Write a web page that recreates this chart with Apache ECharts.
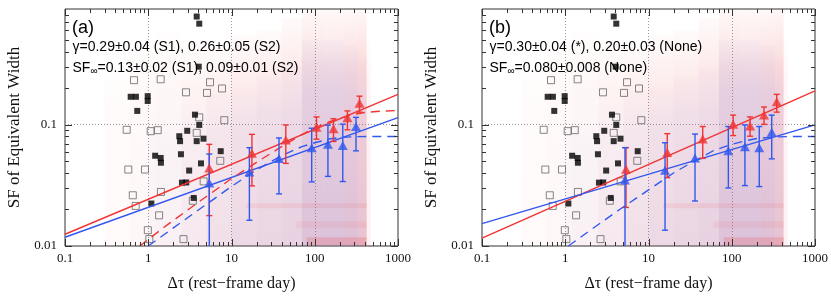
<!DOCTYPE html>
<html><head><meta charset="utf-8">
<script src="https://cdn.jsdelivr.net/npm/echarts@6/dist/echarts.min.js"></script>
<style>html,body{margin:0;padding:0;background:#fff}#c{width:831px;height:297px}</style>
</head><body><div id="c"></div>
<script>
// ---------- tick labels ----------
const xTickVals = [0.1, 1, 10, 100, 1000];
const xTickLabels = ['0.1', '1', '10', '100', '1000'];
const yTickVals = [0.01, 0.1];
const yTickLabels = ['0.01', '0.1'];
const minorMultipliers = [2, 3, 4, 5, 6, 7, 8, 9];

// ---------- squares (same in both panels) ----------
const filledSquares = [[3.82,0.780],[4.10,0.681],[4.04,0.301],[0.615,0.170],[0.711,0.170],[0.985,0.172],[0.985,0.157],[0.738,0.130],[3.64,0.121],[4.10,0.0996],[2.94,0.0891],[2.36,0.0804],[2.41,0.0732],[3.82,0.0732],[4.61,0.0767],[7.42,0.0605],[1.21,0.0555],[1.41,0.0532],[1.42,0.0486],[2.47,0.0571],[4.30,0.0480],[3.10,0.0419],[2.54,0.0333],[2.86,0.0334],[3.52,0.0249],[1.09,0.0224]];
const openSquares = [[0.674,0.233],[1.41,0.237],[5.52,0.224],[2.84,0.185],[5.08,0.183],[7.69,0.199],[4.10,0.115],[8.20,0.109],[0.551,0.0908],[1.07,0.0885],[1.30,0.0902],[3.82,0.0857],[0.576,0.0427],[0.914,0.0427],[7.33,0.0504],[4.63,0.0341],[0.652,0.0262],[0.707,0.0214],[1.42,0.0279],[3.43,0.0236],[1.35,0.0179],[0.988,0.0135],[1.03,0.0114],[2.65,0.0114]];

// ---------- panel (a) binned SF ----------
const aRedX  = [5.41, 17.6, 44.9, 105, 168, 247, 345];
const aRedY  = [0.0440, 0.0582, 0.0750, 0.0951, 0.0927, 0.114, 0.150];
const aRedLo = [0.0178, 0.0313, 0.0480, 0.0760, 0.0728, 0.0909, 0.127];
const aRedHi = [0.0689, 0.0833, 0.0996, 0.116, 0.112, 0.130, 0.172];
const aBlueX  = [5.41, 16.4, 37.2, 91.9, 144, 217, 313];
const aBlueY  = [0.0331, 0.0408, 0.0526, 0.0647, 0.0689, 0.0675, 0.0965];
const aBlueLo = [0.005, 0.0163, 0.0269, 0.0338, 0.0375, 0.0340, 0.0609];
const aBlueHi = [0.0573, 0.0647, 0.0778, 0.0936, 0.0993, 0.101, 0.115];

// ---------- panel (b) binned SF ----------
const bRedX  = [5.37, 16.8, 44.8, 104, 166, 244, 347];
const bRedY  = [0.0429, 0.059, 0.0764, 0.1007, 0.0978, 0.120, 0.155];
const bRedLo = [0.0208, 0.0366, 0.0528, 0.0814, 0.0804, 0.1007, 0.127];
const bRedHi = [0.0647, 0.0844, 0.0966, 0.120, 0.116, 0.140, 0.178];
const bBlueX  = [5.22, 15.8, 36.2, 91, 144, 214, 302];
const bBlueY  = [0.035, 0.0421, 0.0532, 0.0609, 0.0659, 0.0647, 0.0865];
const bBlueLo = [0.005, 0.0135, 0.0235, 0.0301, 0.0315, 0.0309, 0.0523];
const bBlueHi = [0.0647, 0.0710, 0.0838, 0.0966, 0.0996, 0.0966, 0.120];

// ---------- fitted curves ----------
const aRedFit  = [[0.1, 0.0125], [1000, 0.178]];
const aBlueFit = [[0.1, 0.0118], [1000, 0.1146]];
const bRedFit  = [[0.1, 0.0116], [1000, 0.190]];
const bBlueFit = [[0.1, 0.0153], [1000, 0.0996]];
const aRedDash  = [[0.79,0.01],[1.66,0.0148],[4.2,0.0235],[10,0.036],[20,0.049],[40,0.066],[70,0.083],[100,0.094],[150,0.106],[200,0.113],[300,0.122],[400,0.126],[600,0.129],[1000,0.131]];
const aBlueDash = [[1.0,0.01],[2,0.0141],[4,0.0198],[7,0.026],[10,0.031],[20,0.0425],[40,0.0555],[70,0.066],[100,0.071],[150,0.0763],[200,0.0784],[300,0.0797],[500,0.08],[1000,0.08]];
const bBlueDash = [[1.09,0.01],[2,0.0135],[4.5,0.020],[10,0.029],[20,0.040],[30,0.047],[60,0.061],[100,0.069],[150,0.074],[200,0.077],[300,0.079],[500,0.08],[1000,0.08]];

// ---------- background pair cloud: columns (x0, x1, top of cloud, density) ----------
const redCloudCols = [
  [0.3, 0.6, 0.4, 0.025], [0.6, 1.2, 0.5, 0.04], [1.2, 2.5, 0.6, 0.05], [2.5, 5, 0.5, 0.08],
  [5, 10, 0.45, 0.11], [10, 20, 0.55, 0.13], [20, 40, 0.6, 0.14], [40, 70, 0.75, 0.15],
  [70, 130, 0.9, 0.20], [130, 220, 0.9, 0.19], [220, 330, 0.9, 0.22], [330, 420, 0.9, 0.24],
  [420, 470, 0.5, 0.07]
];
const blueCloudCols = [
  [1, 2.5, 0.12, 0.025], [2.5, 5, 0.15, 0.04], [5, 10, 0.18, 0.06], [10, 20, 0.2, 0.08],
  [20, 40, 0.25, 0.09], [40, 70, 0.3, 0.10], [70, 130, 0.5, 0.15], [130, 220, 0.5, 0.16],
  [220, 330, 0.45, 0.14], [330, 420, 0.35, 0.09]
];
// horizontal streaks (x0, x1, y0, y1, density)
const redStreaks = [
  [80, 420, 0.0102, 0.0118, 0.18], [15, 420, 0.0205, 0.0225, 0.09], [60, 420, 0.014, 0.016, 0.07]
];

// ---------- texts ----------
const panelTags = ['(a)', '(b)'];
const gammaTexts = ['γ=0.29±0.04 (S1), 0.26±0.05 (S2)', 'γ=0.30±0.04 (*), 0.20±0.03 (None)'];
const sfTexts = ['=0.13±0.02 (S1), 0.09±0.01 (S2)', '=0.080±0.008 (None)'];

const RED = '#f03434', BLUE = '#3158ee';
const SERIF = 'Liberation Serif', SANS = 'Liberation Sans';
const gridLeft = [65, 482], gridTop = 9, gridW = 333, gridH = 244;

function pickLabel(vals, labels) {
  return function (v) {
    for (let i = 0; i < vals.length; i++) {
      if (Math.abs(Math.log10(v) - Math.log10(vals[i])) < 1e-6) return labels[i];
    }
    return '';
  };
}

const tickData = [];
xTickVals.forEach(v => tickData.push([v, 0.1, 0]));
xTickVals.slice(0, -1).forEach(d => minorMultipliers.forEach(m => tickData.push([d * m, 0.1, 1])));
yTickVals.forEach(v => tickData.push([1, v, 2]));
yTickVals.forEach(d => minorMultipliers.forEach(m => { if (d * m < 0.9 - 1e-9) tickData.push([1, d * m, 3]); }));

function tickRender(params, api) {
  const cs = params.coordSys;
  const k = api.value(2);
  const pt = api.coord([api.value(0), api.value(1)]);
  const len = (k === 0 || k === 2) ? 7 : 4;
  const st = { stroke: '#333', lineWidth: 1 };
  if (k < 2) {
    const x = Math.round(pt[0]) + 0.5;
    const b = cs.y + cs.height;
    return { type: 'group', children: [
      { type: 'line', shape: { x1: x, y1: b, x2: x, y2: b - len }, style: st },
      { type: 'line', shape: { x1: x, y1: cs.y, x2: x, y2: cs.y + len }, style: st }
    ] };
  } else {
    const y = Math.round(pt[1]) + 0.5;
    const r = cs.x + cs.width;
    return { type: 'group', children: [
      { type: 'line', shape: { x1: cs.x, y1: y, x2: cs.x + len, y2: y }, style: st },
      { type: 'line', shape: { x1: r, y1: y, x2: r - len, y2: y }, style: st }
    ] };
  }
}

function colRender(rgb) {
  return function (params, api) {
    const cs = params.coordSys;
    const p0 = api.coord([api.value(0), api.value(2)]);
    const p1 = api.coord([api.value(1), 0.01]);
    const a = api.value(3);
    const x0 = Math.max(p0[0], cs.x), x1 = Math.min(p1[0], cs.x + cs.width);
    const y0 = Math.max(p0[1], cs.y), y1 = Math.min(p1[1], cs.y + cs.height);
    return { type: 'rect', shape: { x: x0, y: y0, width: x1 - x0, height: y1 - y0 },
      style: { fill: { type: 'linear', x: 0, y: 0, x2: 0, y2: 1, colorStops: [
        { offset: 0, color: 'rgba(' + rgb + ',' + (a * 0.15) + ')' },
        { offset: 0.25, color: 'rgba(' + rgb + ',' + (a * 0.75) + ')' },
        { offset: 1, color: 'rgba(' + rgb + ',' + a + ')' } ] } } };
  };
}

function streakRender(rgb) {
  return function (params, api) {
    const cs = params.coordSys;
    const p0 = api.coord([api.value(0), api.value(3)]);
    const p1 = api.coord([api.value(1), api.value(2)]);
    const x0 = Math.max(p0[0], cs.x), x1 = Math.min(p1[0], cs.x + cs.width);
    return { type: 'rect', shape: { x: x0, y: p0[1], width: x1 - x0, height: p1[1] - p0[1] },
      style: { fill: 'rgba(' + rgb + ',' + api.value(4) + ')' } };
  };
}

function errRender(color) {
  return function (params, api) {
    const cs = params.coordSys;
    const top = api.coord([api.value(0), api.value(2)]);
    const bot = api.coord([api.value(0), api.value(1)]);
    const b = cs.y + cs.height;
    const x = top[0];
    const yb = Math.min(bot[1], b);
    const st = { stroke: color, lineWidth: 1.4 };
    const ch = [
      { type: 'line', shape: { x1: x, y1: top[1], x2: x, y2: yb }, style: st },
      { type: 'line', shape: { x1: x - 3, y1: top[1], x2: x + 3, y2: top[1] }, style: st }
    ];
    if (bot[1] <= b) ch.push({ type: 'line', shape: { x1: x - 3, y1: bot[1], x2: x + 3, y2: bot[1] }, style: st });
    return { type: 'group', children: ch };
  };
}

const zip2 = (a, b) => a.map((v, i) => [v, b[i]]);
const zip3 = (a, b, c) => a.map((v, i) => [v, b[i], c[i]]);

const grids = [], xAxes = [], yAxes = [], series = [], graphics = [];
const panels = [
  { redX: aRedX, redY: aRedY, redLo: aRedLo, redHi: aRedHi, blueX: aBlueX, blueY: aBlueY, blueLo: aBlueLo, blueHi: aBlueHi,
    redFit: aRedFit, blueFit: aBlueFit, dashes: [[aRedDash, RED], [aBlueDash, BLUE]] },
  { redX: bRedX, redY: bRedY, redLo: bRedLo, redHi: bRedHi, blueX: bBlueX, blueY: bBlueY, blueLo: bBlueLo, blueHi: bBlueHi,
    redFit: bRedFit, blueFit: bBlueFit, dashes: [[bBlueDash, BLUE]] }
];

panels.forEach((P, i) => {
  grids.push({ left: gridLeft[i], top: gridTop, width: gridW, height: gridH, show: true,
    borderColor: '#333', borderWidth: 1, backgroundColor: 'transparent' });
  xAxes.push({ type: 'log', logBase: 10, gridIndex: i, min: 0.1, max: 1000,
    axisLine: { show: false }, axisTick: { show: false },
    splitLine: { show: true, lineStyle: { type: [1, 2], color: '#999', width: 1 } },
    axisLabel: { fontFamily: SERIF, fontSize: 13, color: '#111', margin: 6, formatter: pickLabel(xTickVals, xTickLabels) },
    name: 'Δτ (rest−frame day)', nameLocation: 'middle', nameGap: 30,
    nameTextStyle: { fontFamily: SERIF, fontSize: 16, color: '#111' } });
  yAxes.push({ type: 'log', logBase: 10, gridIndex: i, min: 0.01, max: 0.9,
    axisLine: { show: false }, axisTick: { show: false },
    splitLine: { show: true, lineStyle: { type: [1, 2], color: '#999', width: 1 } },
    axisLabel: { fontFamily: SERIF, fontSize: 13, color: '#111', margin: 8, formatter: pickLabel(yTickVals, yTickLabels) },
    name: 'SF of Equivalent Width', nameLocation: 'middle', nameGap: 42,
    nameTextStyle: { fontFamily: SERIF, fontSize: 17, color: '#111' } });

  const ax = { xAxisIndex: i, yAxisIndex: i };
  series.push(Object.assign({ type: 'custom', silent: true, z: 1, encode: { x: [0, 1], y: 2 },
    renderItem: colRender('235,50,50'), data: redCloudCols }, ax));
  series.push(Object.assign({ type: 'custom', silent: true, z: 1, encode: { x: [0, 1], y: 2 },
    renderItem: colRender('55,80,235'), data: blueCloudCols }, ax));
  series.push(Object.assign({ type: 'custom', silent: true, z: 1, encode: { x: [0, 1], y: [2, 3] },
    renderItem: streakRender('235,50,50'), data: redStreaks }, ax));
  series.push(Object.assign({ type: 'custom', silent: true, z: 20, encode: { x: 0, y: 1 },
    renderItem: tickRender, data: tickData }, ax));
  series.push(Object.assign({ type: 'scatter', silent: true, z: 5, symbol: 'rect', symbolSize: 7,
    itemStyle: { color: 'rgba(255,255,255,0)', borderColor: '#666', borderWidth: 1 }, data: openSquares }, ax));
  series.push(Object.assign({ type: 'scatter', silent: true, z: 5, symbol: 'rect', symbolSize: 6,
    itemStyle: { color: '#000' }, data: filledSquares }, ax));
  [[P.redFit, RED], [P.blueFit, BLUE]].forEach(([d, c]) => series.push(Object.assign({ type: 'line', silent: true, z: 6,
    showSymbol: false, lineStyle: { color: c, width: 1.4 }, data: d }, ax)));
  P.dashes.forEach(([d, c]) => series.push(Object.assign({ type: 'line', silent: true, z: 6, smooth: false,
    showSymbol: false, lineStyle: { color: c, width: 1.4, type: [9, 6] }, data: d }, ax)));
  series.push(Object.assign({ type: 'custom', silent: true, z: 7, encode: { x: 0, y: [1, 2] },
    renderItem: errRender(RED), data: zip3(P.redX, P.redLo, P.redHi) }, ax));
  series.push(Object.assign({ type: 'custom', silent: true, z: 7, encode: { x: 0, y: [1, 2] },
    renderItem: errRender(BLUE), data: zip3(P.blueX, P.blueLo, P.blueHi) }, ax));
  series.push(Object.assign({ type: 'scatter', silent: true, z: 8, symbol: 'triangle', symbolSize: [10, 9],
    itemStyle: { color: RED }, data: zip2(P.redX, P.redY) }, ax));
  series.push(Object.assign({ type: 'scatter', silent: true, z: 8, symbol: 'triangle', symbolSize: [10, 9],
    itemStyle: { color: BLUE }, data: zip2(P.blueX, P.blueY) }, ax));

  const tx = gridLeft[i] + 7.5;
  graphics.push({ type: 'text', z: 3, x: tx - 0.5, y: 28, style: { text: panelTags[i], font: '18px "' + SANS + '"', fill: '#000', verticalAlign: 'middle' } });
  graphics.push({ type: 'text', z: 3, x: tx, y: 47, style: { text: gammaTexts[i], font: '14px "' + SANS + '"', fill: '#000', verticalAlign: 'middle' } });
  graphics.push({ type: 'text', z: 3, x: tx, y: 68.5, style: {
    text: '{n|SF}{s|∞}{n|' + sfTexts[i] + '}', verticalAlign: 'middle', fill: '#000',
    rich: { n: { fontFamily: SANS, fontSize: 14, lineHeight: 16, fill: '#000' },
            s: { fontFamily: SANS, fontSize: 10, lineHeight: 16, verticalAlign: 'bottom', fill: '#000' } } } });
});

const chart = echarts.init(document.getElementById('c'), null, { renderer: 'canvas' });
chart.setOption({
  animation: false,
  backgroundColor: '#fff',
  grid: grids, xAxis: xAxes, yAxis: yAxes, series: series,
  graphic: { elements: graphics }
});
</script></body></html>
